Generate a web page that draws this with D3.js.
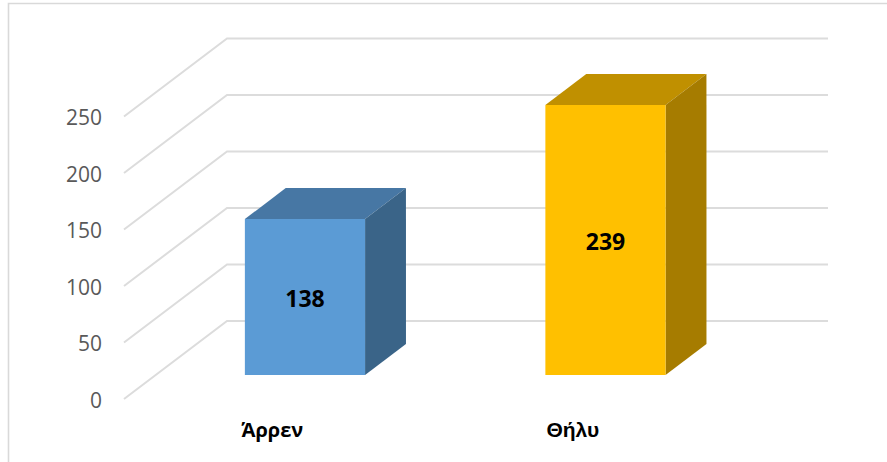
<!DOCTYPE html>
<html><head><meta charset="utf-8">
<script src="https://cdn.jsdelivr.net/npm/d3@7"></script>
<style>html,body{margin:0;padding:0;background:#fff}svg{display:block}</style>
</head><body><svg id="c" width="887" height="462"></svg>
<script>
const categories = ["Άρρεν", "Θήλυ"];
const values = [138, 239];
const yTicks = [0, 50, 100, 150, 200, 250];
const frontColors = ["#5b9bd5", "#ffc000"];
const topColors = ["#4777a4", "#c09000"];
const sideColors = ["#3a6488", "#a67c00"];
const catFonts = ["'Open Sans'", "'Liberation Sans'"];
const catSizes = [20, 21];

const W = 887, H = 462;
const svg = d3.select("#c");
const y = d3.scaleLinear().domain([0, 250]).range([399, 116.5]);
const x = d3.scaleBand().domain(categories).range([124, 725]);
const depthX = d3.scaleLinear().domain([0, 1]).range([0, 103]);
const depthY = d3.scaleLinear().domain([0, 1]).range([0, -78]);
const nearT = 0.308, farT = 0.705, barShare = 0.4;
const P = (px, v, t) => [px + depthX(t), y(v) + depthY(t)];
const pts = a => a.map(p => p.join(",")).join(" ");

svg.append("path").attr("d", `M8.5 ${H} V3.5 H${W}`).attr("fill", "none")
   .attr("stroke", "#d9d9d9").attr("stroke-width", 1.6);

const right = x.range()[1];
svg.append("g").selectAll("polyline").data(yTicks).join("polyline")
   .attr("points", d => pts([P(x.range()[0], d, 0), P(x.range()[0], d, 1), P(right, d, 1)]))
   .attr("fill", "none").attr("stroke", "#dcdcdc").attr("stroke-width", 2);

const axis = svg.append("g").attr("transform", "translate(102,0)")
   .call(d3.axisLeft(y).tickValues(yTicks).tickSize(0).tickPadding(0));
axis.select(".domain").remove();
axis.selectAll("text").attr("font-family", "'Open Sans'").attr("font-size", 21)
   .attr("fill", "#595959").attr("dy", "0.4em");

const bars = svg.append("g").selectAll("g").data(categories).join("g");
bars.each(function (c, i) {
  const g = d3.select(this), v = values[i];
  const cx = x(c) + x.bandwidth() / 2;
  const bw = x.bandwidth() * barShare;
  const x0 = cx - bw / 2 - 1, x1 = cx + bw / 2 - 1;
  g.append("polygon").attr("fill", topColors[i])
   .attr("points", pts([P(x0, v, nearT), P(x1, v, nearT), P(x1, v, farT), P(x0, v, farT)]));
  g.append("polygon").attr("fill", sideColors[i])
   .attr("points", pts([P(x1, 0, nearT), P(x1, 0, farT), P(x1, v, farT), P(x1, v, nearT)]));
  g.append("polygon").attr("fill", frontColors[i])
   .attr("points", pts([P(x0, 0, nearT), P(x1, 0, nearT), P(x1, v, nearT), P(x0, v, nearT)]));
  const mid = P((x0 + x1) / 2, v / 2, nearT);
  g.append("text").text(v).attr("x", mid[0]).attr("y", mid[1] + 2)
   .attr("dy", "0.36em").attr("text-anchor", "middle")
   .attr("font-family", "'Open Sans'").attr("font-weight", 700)
   .attr("font-size", 23).attr("fill", "#000");
  g.append("text").text(c).attr("x", cx - 2).attr("y", 437)
   .attr("text-anchor", "middle").attr("font-family", catFonts[i])
   .attr("font-weight", 700).attr("font-size", catSizes[i]).attr("fill", "#000");
});
</script></body></html>
